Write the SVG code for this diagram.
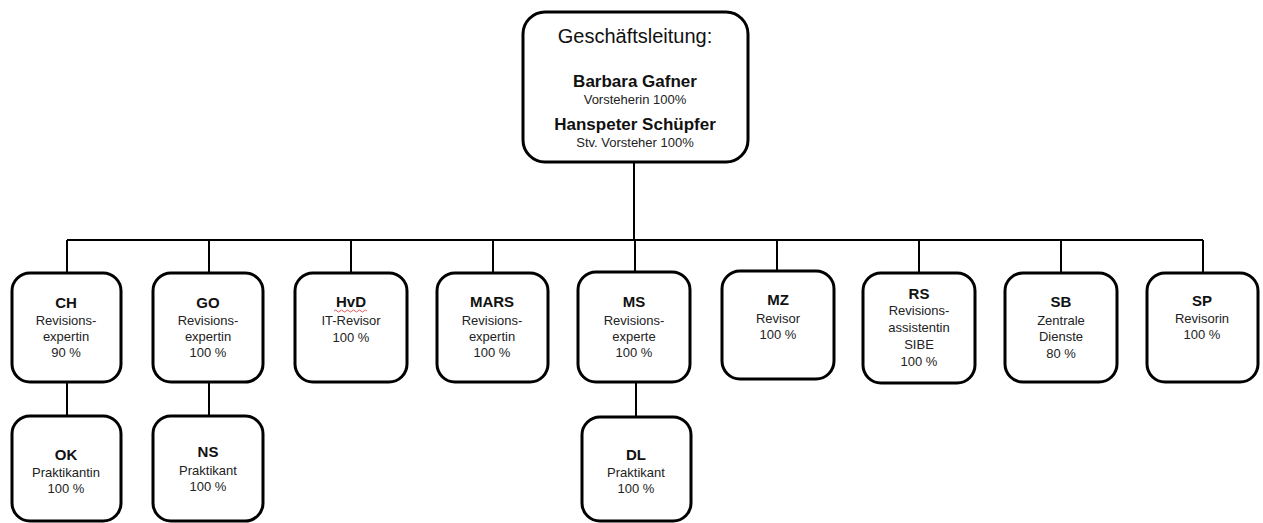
<svg xmlns="http://www.w3.org/2000/svg" width="1263" height="523" viewBox="0 0 1263 523">
<style>
.box{fill:#fff;stroke:#000;stroke-width:3}
.ln{stroke:#000;stroke-width:2;fill:none}
text{font-family:"Liberation Sans",Arial,sans-serif;text-anchor:middle;fill:#000}
.t{font-size:15px;font-weight:bold;fill:#111}
.s{font-size:13px;fill:#222}
.h{font-size:20px;fill:#111}
.n{font-size:17px;font-weight:bold;fill:#111}
</style>
<rect width="1263" height="523" fill="#fff"/>
<g id="connectors">
<path class="ln" d="M634 162V240M67 240H1203M67 240V273M209 240V273M351 240V273M493 240V273M635 240V273M777 240V273M919 240V273M1061 240V273M1203 240V273M67 382V416M209 382V416M636 382V416"/>
</g>
<g id="gl">
<rect class="box" x="523" y="12" width="225" height="150" rx="22"/>
<text class="h" x="635" y="43">Geschäftsleitung:</text>
<text class="n" x="635" y="87">Barbara Gafner</text>
<text class="s" x="635" y="104">Vorsteherin 100%</text>
<text class="n" x="635" y="130">Hanspeter Schüpfer</text>
<text class="s" x="635" y="147">Stv. Vorsteher 100%</text>
</g>
<g id="CH">
<rect class="box" x="12" y="273" width="109" height="109" rx="18"/>
<text class="t" x="66" y="308">CH</text>
<text class="s" x="66" y="325">Revisions-</text>
<text class="s" x="66" y="341">expertin</text>
<text class="s" x="66" y="357">90 %</text>
</g>
<g id="GO">
<rect class="box" x="153" y="273" width="110" height="109" rx="18"/>
<text class="t" x="208" y="308">GO</text>
<text class="s" x="208" y="325">Revisions-</text>
<text class="s" x="208" y="341">expertin</text>
<text class="s" x="208" y="357">100 %</text>
</g>
<g id="HvD">
<rect class="box" x="295" y="273" width="112" height="109" rx="18"/>
<text class="t" x="351" y="307">HvD</text>
<path d="M334 311q1.5-2 3 0t3 0t3 0t3 0t3 0t3 0t3 0t3 0t3 0t3 0t3 0" stroke="#e03030" stroke-width="0.8" fill="none"/>
<text class="s" x="351" y="325">IT-Revisor</text>
<text class="s" x="351" y="342">100 %</text>
</g>
<g id="MARS">
<rect class="box" x="437" y="273" width="111" height="109" rx="18"/>
<text class="t" x="492" y="307">MARS</text>
<text class="s" x="492" y="325">Revisions-</text>
<text class="s" x="492" y="341">expertin</text>
<text class="s" x="492" y="357">100 %</text>
</g>
<g id="MS">
<rect class="box" x="578" y="272" width="112" height="110" rx="18"/>
<text class="t" x="634" y="307">MS</text>
<text class="s" x="634" y="325">Revisions-</text>
<text class="s" x="634" y="341">experte</text>
<text class="s" x="634" y="357">100 %</text>
</g>
<g id="MZ">
<rect class="box" x="722" y="271" width="112" height="108" rx="18"/>
<text class="t" x="778" y="305">MZ</text>
<text class="s" x="778" y="323">Revisor</text>
<text class="s" x="778" y="339">100 %</text>
</g>
<g id="RS">
<rect class="box" x="863" y="273" width="112" height="110" rx="18"/>
<text class="t" x="919" y="299">RS</text>
<text class="s" x="919" y="315">Revisions-</text>
<text class="s" x="919" y="332">assistentin</text>
<text class="s" x="919" y="349">SIBE</text>
<text class="s" x="919" y="366">100 %</text>
</g>
<g id="SB">
<rect class="box" x="1005" y="273" width="112" height="109" rx="18"/>
<text class="t" x="1061" y="307">SB</text>
<text class="s" x="1061" y="325">Zentrale</text>
<text class="s" x="1061" y="341">Dienste</text>
<text class="s" x="1061" y="358">80 %</text>
</g>
<g id="SP">
<rect class="box" x="1147" y="273" width="111" height="109" rx="18"/>
<text class="t" x="1202" y="306">SP</text>
<text class="s" x="1202" y="323">Revisorin</text>
<text class="s" x="1202" y="339">100 %</text>
</g>
<g id="OK">
<rect class="box" x="12" y="416" width="109" height="105" rx="18"/>
<text class="t" x="66" y="460">OK</text>
<text class="s" x="66" y="477">Praktikantin</text>
<text class="s" x="66" y="493">100 %</text>
</g>
<g id="NS">
<rect class="box" x="153" y="416" width="110" height="105" rx="18"/>
<text class="t" x="208" y="457">NS</text>
<text class="s" x="208" y="475">Praktikant</text>
<text class="s" x="208" y="491">100 %</text>
</g>
<g id="DL">
<rect class="box" x="582" y="417" width="109" height="104" rx="18"/>
<text class="t" x="636" y="460">DL</text>
<text class="s" x="636" y="477">Praktikant</text>
<text class="s" x="636" y="493">100 %</text>
</g>
</svg>
